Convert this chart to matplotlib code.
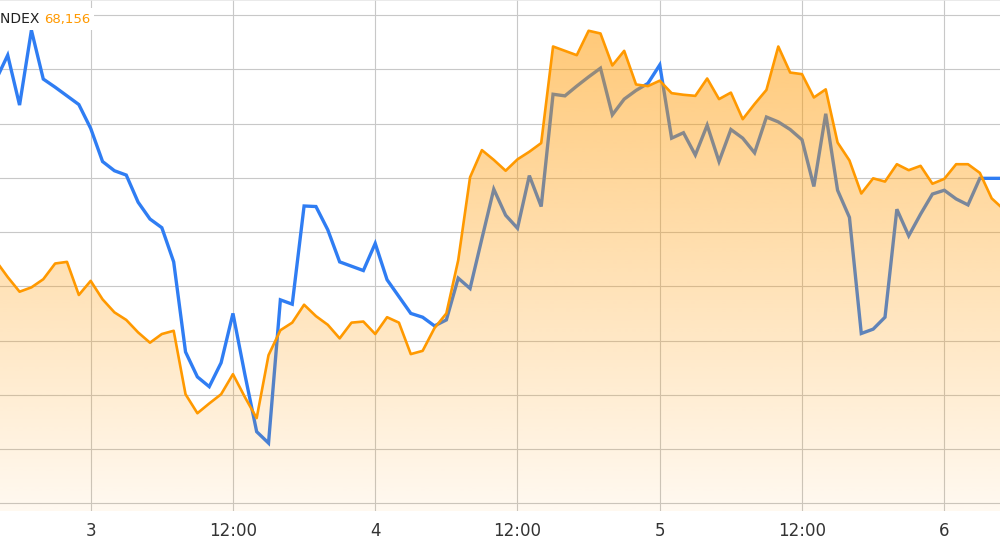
import numpy as np
import pandas as pd
import matplotlib
matplotlib.use("Agg")
import matplotlib.pyplot as plt
import matplotlib.dates as mdates
from matplotlib.ticker import FuncFormatter, MultipleLocator

# hourly readings, 2 Jun 16:00 -> 6 Jun 05:00
times = pd.date_range("2025-06-02 16:00", periods=86, freq="h")

blue_series = [
    78.0, 82.6, 73.4, 87.2, 78.2, 76.7, 75.1, 73.5,
    69.1, 63.0, 61.3, 60.5, 55.5, 52.4, 50.8, 44.5, 27.9, 23.3, 21.5, 25.9,
    35.0, 23.8, 13.2, 11.1, 37.5, 36.7, 54.8, 54.7, 50.4, 44.5, 43.7, 42.9,
    47.9, 41.2, 38.1, 35.0, 34.3, 32.7, 33.8, 41.5, 39.6, 48.8, 57.9, 53.1,
    50.7, 60.4, 54.7, 75.4, 75.1, 76.9, 78.6, 80.2, 71.6, 74.5, 76.1, 77.4,
    80.8, 67.3, 68.3, 64.2, 69.7, 63.0, 68.9, 67.3, 64.6, 71.2, 70.3, 68.9,
    67.0, 58.4, 71.8, 57.7, 52.7, 31.3, 32.1, 34.3, 54.2, 49.3, 53.3, 57.0,
    57.7, 56.1, 55.0, 59.9, 59.9, 59.9,
]

index_series = [
    44.7, 41.7, 39.0, 39.8, 41.3, 44.2, 44.5, 38.4,
    41.0, 37.6, 35.2, 33.8, 31.5, 29.6, 31.2, 31.8, 20.1, 16.6, 18.4, 20.1,
    23.8, 19.6, 15.7, 27.3, 31.9, 33.3, 36.6, 34.5, 32.9, 30.4, 33.3, 33.5,
    31.2, 34.3, 33.3, 27.5, 28.1, 32.3, 35.0, 44.8, 60.1, 65.1, 63.3, 61.3,
    63.4, 64.8, 66.4, 84.2, 83.4, 82.6, 87.1, 86.6, 80.7, 83.4, 77.2, 76.9,
    77.9, 75.6, 75.3, 75.1, 78.3, 74.5, 75.7, 70.8, 73.6, 76.2, 84.2, 79.4,
    79.1, 74.8, 76.3, 66.5, 63.2, 57.1, 59.9, 59.3, 62.5, 61.4, 62.2, 58.9,
    59.8, 62.5, 62.5, 60.9, 56.2, 54.2,
]

header_name = "INDEX"
header_value = "68,156"

x = mdates.date2num(times)
day3 = mdates.date2num(pd.Timestamp("2025-06-03"))
hour = 1 / 24
x0, x1 = day3 - 7.65 * hour, day3 + 76.7 * hour
y0, y1 = -1.42, 92.77

fig = plt.figure(figsize=(10, 5.52), dpi=100)
ax = fig.add_axes([0, 1 - 511 / 552, 1, 511 / 552])

ax.plot(x, blue_series, color="#2f7df3", lw=2.4, zorder=2, solid_joinstyle="miter")

# area under the index line, gradient fill (semi-transparent over the blue line)
poly = ax.fill_between(x, index_series, y0, facecolor="none", edgecolor="none")
grad = np.zeros((256, 1, 4))
grad[:, 0, 0] = 1.0
grad[:, 0, 1] = 0.6
grad[:, 0, 2] = 0.0
grad[:, 0, 3] = np.linspace(0.06, 0.56, 256)
im = ax.imshow(grad, extent=[x0, x1, y0, y1], origin="lower", aspect="auto",
               zorder=3, interpolation="bilinear")
im.set_clip_path(poly.get_paths()[0], transform=ax.transData)

ax.plot(x, index_series, color="#ff9900", lw=1.9, zorder=4)

ax.set_xlim(x0, x1)
ax.set_ylim(y0, y1)

ax.yaxis.set_major_locator(MultipleLocator(10))
ax.xaxis.set_major_locator(mdates.HourLocator(byhour=[0, 12]))


def fmt(v, pos):
    d = mdates.num2date(v)
    if d.hour == 0:
        return str(d.day)
    return d.strftime("%H:%M")


ax.xaxis.set_major_formatter(FuncFormatter(fmt))
ax.grid(True, color="#c8c8c8", lw=0.8)
ax.set_axisbelow(True)
ax.tick_params(axis="x", length=0, pad=8, labelsize=12, labelcolor="#333333")
ax.tick_params(axis="y", left=False, labelleft=False)
for s in ["left", "right", "bottom"]:
    ax.spines[s].set_visible(False)
ax.spines["top"].set_color("#e6e6e6")
ax.spines["top"].set_linewidth(1.2)

fig.text(-3 / 1000, 1 - 19 / 552, header_name, fontsize=10, color="#222222",
         va="center", ha="left", zorder=10,
         bbox=dict(facecolor="white", edgecolor="none", pad=3))
fig.text(44 / 1000, 1 - 19 / 552, header_value, fontsize=9.5, color="#ff9900",
         va="center", ha="left", zorder=10,
         bbox=dict(facecolor="white", edgecolor="none", pad=3))

fig.savefig("out.png", dpi=100)
plt.close(fig)
